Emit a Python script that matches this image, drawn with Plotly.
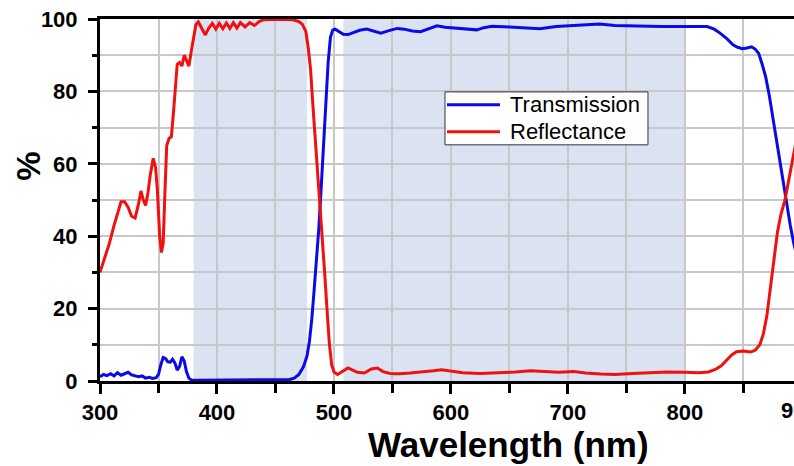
import plotly.graph_objects as go

# ---- data ----
refl_wl = [300, 303, 308, 312, 315, 318, 321, 324, 327, 330, 333, 335, 337, 339, 341, 343, 345.5, 347.5,
           349, 351, 352.5, 354, 355.5, 357, 359, 361, 363, 364.5, 366, 368, 370, 372, 374, 376, 378, 380,
           382, 384, 387, 390, 393, 396, 399, 402, 405, 408, 411, 414, 417, 420, 424, 428, 432, 436, 440,
           450, 465, 470, 473, 476, 478, 480, 482, 484, 486, 488, 490, 492, 494, 496, 498, 500, 503, 507,
           512, 516, 520, 526, 532, 537, 542, 548, 556, 565, 575, 585, 592, 600, 610, 625, 640, 655, 668,
           680, 692, 705, 715, 728, 740, 755, 770, 785, 800, 812, 820, 826, 831, 836, 840, 844, 850, 856,
           860, 864, 867, 870, 873, 876, 879, 882, 885.5, 889, 893, 896]
refl = [30, 33, 38, 43, 46.5, 49.5, 49.5, 48, 45.5, 45, 49, 52.5, 50, 48.5, 52, 57, 61.5, 59,
        53, 40, 35.5, 38, 52, 65, 67, 67.5, 75, 82, 87.5, 88, 87, 90, 88.5, 87, 91, 95,
        98.5, 99.2, 97.5, 95.6, 97.5, 98.8, 97.2, 98.8, 97.3, 98.9, 97.4, 99, 97.5, 99, 97.8, 99, 98.2, 99.3, 99.8,
        99.9, 99.8, 99.3, 98.5, 96.5, 92, 86, 76, 67, 58, 50, 41, 30, 20, 10.5, 4.5, 2.5, 1.8, 2.5,
        3.6, 3, 2.4, 2.2, 3.3, 3.6, 2.6, 2.1, 2, 2.2, 2.4, 2.8, 3.1, 2.7, 2.3, 2.1, 2.2, 2.5, 2.8,
        2.5, 2.4, 2.6, 2.2, 1.9, 1.8, 2.1, 2.4, 2.5, 2.4, 2.3, 2.5, 3.2, 4.2, 5.9, 7.2, 8.1, 8.3, 8,
        8.5, 10, 13, 18, 26, 34, 41, 46, 50, 56, 63, 68]

trans_wl = [300, 303, 306, 309, 312, 315, 318, 321, 324, 327, 330, 333, 336, 339, 342, 345, 348, 350,
            352, 354, 356, 358, 360, 362, 364, 366, 368, 370, 372, 374, 376, 378, 385, 400, 430, 455,
            462, 466, 470, 474, 477, 479, 481, 483, 485, 487, 489, 491, 493, 495, 497, 499, 501, 504,
            508, 512, 517, 522, 528, 534, 540, 547, 554, 560, 567, 574, 581, 588, 595, 605, 615, 622,
            628, 635, 650, 665, 676, 690, 705, 718, 727, 740, 760, 780, 799, 812, 819, 825, 830, 836,
            841, 845, 849, 853, 857, 860, 863, 866, 869, 872, 875, 878, 881, 884, 887, 890, 893, 896]
trans = [1.2, 1.8, 1.5, 2.0, 1.4, 2.3, 1.6, 2.0, 2.4, 1.7, 1.5, 1.2, 1.4, 0.8, 1.0, 0.7, 0.9, 1.8,
         4.5, 6.5, 6.2, 5.3, 5.2, 6.0, 5.0, 3.0, 4.0, 6.7, 5.5, 2.5, 0.8, 0.3, 0.2, 0.2, 0.2, 0.3,
         0.4, 0.8, 1.8, 4, 7, 11, 17, 25, 33, 42, 53, 64, 77, 88, 95, 97, 97.2, 96.5,
         95.8, 95.7, 96.3, 96.9, 97.2, 96.6, 96.1, 96.8, 97.4, 97.2, 96.7, 96.5, 97.3, 98.1, 97.7, 97.4, 97.1, 97,
         97.6, 98, 97.8, 97.5, 97.3, 97.9, 98.2, 98.4, 98.6, 98.2, 98, 97.9, 97.9, 98, 97.9, 97.2, 96.1, 94.5,
         92.9, 92.2, 91.8, 92, 92.3, 91.7, 90.5, 87.5, 84, 79, 73, 67, 61, 54, 48, 43, 38, 34]

series_names = ["Transmission", "Reflectance"]
series_colors = ["#0a0ae6", "#f01010"]

shade_regions = [(380, 477), (508, 800)]
x_range = [300, 893.2]
y_range = [0, 100]

FONT = "Arial, Liberation Sans, sans-serif"
GRID = "#c8c8c8"

fig = go.Figure()
fig.add_trace(go.Scatter(x=trans_wl, y=trans, mode="lines", name=series_names[0],
                         line=dict(color=series_colors[0], width=3)))
fig.add_trace(go.Scatter(x=refl_wl, y=refl, mode="lines", name=series_names[1],
                         line=dict(color=series_colors[1], width=3)))

for x0, x1 in shade_regions:
    fig.add_shape(type="rect", xref="x", yref="y", x0=x0, x1=x1, y0=y_range[0], y1=y_range[1],
                  fillcolor="#dbe3f3", line=dict(width=0), layer="below")

fig.update_layout(
    width=794, height=466,
    margin=dict(l=100, r=0, t=19, b=85),
    paper_bgcolor="white", plot_bgcolor="white",
    font=dict(family=FONT, color="black"),
    showlegend=False,
)

fig.update_xaxes(range=x_range, tick0=300, dtick=100, showgrid=True, gridcolor=GRID, gridwidth=2,
                 ticks="outside", ticklen=10, tickwidth=3, tickcolor="black",
                 minor=dict(dtick=50, showgrid=True, gridcolor=GRID, gridwidth=2,
                            ticks="outside", ticklen=9, tickwidth=3, tickcolor="black"),
                 showline=True, linecolor="black", linewidth=3, mirror=True,
                 zeroline=False,
                 tickfont=dict(family=FONT, size=22, color="black", weight="bold"))
fig.update_yaxes(range=y_range, tick0=0, dtick=20, showgrid=True, gridcolor=GRID, gridwidth=2,
                 ticks="outside", ticklen=9, tickwidth=3, tickcolor="black",
                 minor=dict(dtick=10, showgrid=True, gridcolor=GRID, gridwidth=2,
                            ticks="outside", ticklen=5, tickwidth=3, tickcolor="black"),
                 showline=True, linecolor="black", linewidth=3, mirror=False,
                 zeroline=False, ticklabelstandoff=6,
                 tickfont=dict(family=FONT, size=22, color="black", weight="bold"))

# legend box (drawn as in the reference)
fig.add_shape(type="rect", xref="paper", yref="paper", x0=0.4971, x1=0.7896, y0=0.6524, y1=0.7986,
              fillcolor="white", line=dict(color="#333333", width=1), layer="above")
for i, (nm, col) in enumerate(zip(series_names, series_colors)):
    yy = [0.7628, 0.6883][i]
    fig.add_shape(type="line", xref="paper", yref="paper", x0=0.5, x1=0.5764, y0=yy, y1=yy,
                  line=dict(color=col, width=3), layer="above")
    fig.add_annotation(text=nm, xref="paper", yref="paper", x=0.5879, y=yy,
                       xanchor="left", yanchor="middle", showarrow=False,
                       font=dict(family=FONT, size=22, color="black"))

# axis titles
fig.add_annotation(text="Wavelength (nm)", xref="paper", yref="paper", x=0.589, y=-0.176,
                   xanchor="center", yanchor="middle", showarrow=False,
                   font=dict(family=FONT, size=35, color="black", weight="bold"))
fig.add_annotation(text="%", xref="paper", yref="paper", x=-0.1023, y=0.5917, textangle=-90,
                   xanchor="center", yanchor="middle", showarrow=False,
                   font=dict(family=FONT, size=33, color="black", weight="bold"))
# partially visible last tick label (cut by the right edge, as in the reference)
fig.add_annotation(text="900", xref="paper", yref="paper", x=1.0086, y=-0.0806,
                   xanchor="center", yanchor="middle", showarrow=False,
                   font=dict(family=FONT, size=22, color="black", weight="bold"))

fig.write_html("out.html")
